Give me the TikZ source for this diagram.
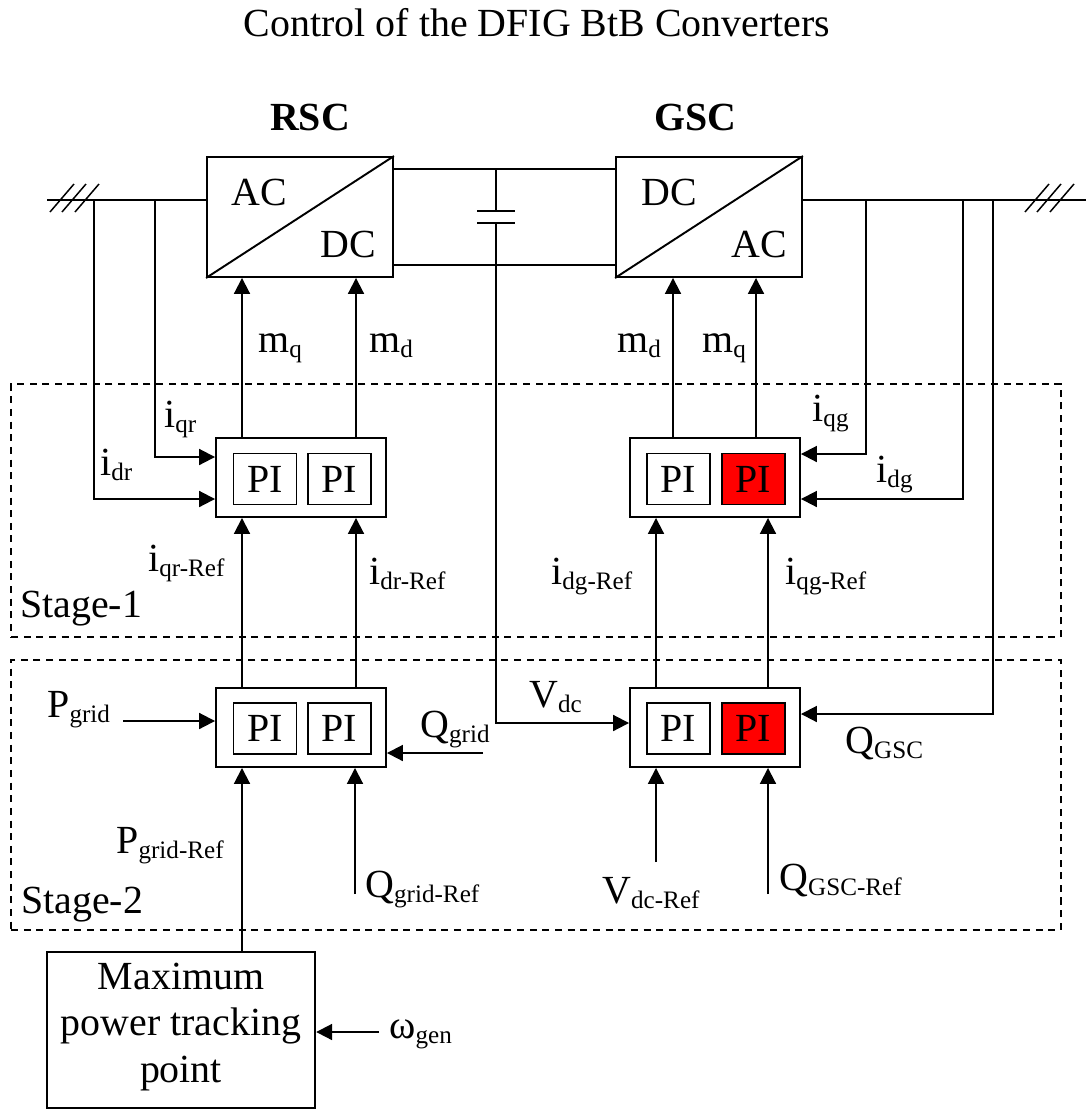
\documentclass[tikz,border=0pt]{standalone}
\usepackage{fontspec}
\setmainfont{Liberation Serif}
\usepackage{tikz}
\usetikzlibrary{arrows.meta,positioning,calc}
\definecolor{pired}{HTML}{FF0000}
\newcommand{\sgl}[2]{#1\raisebox{-3.4pt}{\fontsize{14.3}{16}\selectfont #2}}
\tikzset{conv/.style={draw,line width=1.1pt,inner sep=0pt,minimum width=3.72cm,minimum height=2.4cm},
pibox/.style={draw,line width=1.1pt,inner sep=0pt,minimum width=3.4cm,minimum height=1.58cm},
pi/.style={draw,line width=1pt,inner sep=0pt,minimum width=1.26cm,minimum height=1.02cm,font=\fontsize{22.7}{26}\selectfont},
pihot/.style={pi,fill=pired},
lab/.style={anchor=base west,inner sep=0pt,font=\fontsize{22.7}{26}\selectfont},
head/.style={anchor=base,inner sep=0pt,font=\fontsize{22.7}{26}\selectfont\bfseries},
stage/.style={draw,line width=.85pt,dash pattern=on 4pt off 3.2pt,inner sep=0pt,minimum width=21cm},
wire/.style={line width=1.1pt},
arr/.style={-{Triangle[length=9pt,width=9pt]},line width=1.1pt}}
\begin{document}
\begin{tikzpicture}[x=.02cm,y=-.02cm]
\useasboundingbox (0,0) rectangle (1086,1109);
\node[head,font=\fontsize{22.7}{26}\selectfont] (title) at (537,36) {Control of the DFIG BtB Converters};
\node[head] (rsch) at (310,130) {RSC};
\node[head] (gsch) at (695,130) {GSC};
% stages
\node[stage,minimum height=5.07cm] (s1) at (536,510.5) {};
\node[stage,minimum height=5.4cm] (s2) at (536,795) {};
\node[lab] (s1t) at (20,617) {Stage-1};
\node[lab] (s2t) at (21,913) {Stage-2};
% converters
\node[conv] (rsc) at (300,217) {};
\node[conv] (gsc) at (709,217) {};
\draw[wire] (rsc.south west)--(rsc.north east);
\draw[wire] (gsc.south west)--(gsc.north east);
\node[lab] (rsca) at (231,205) {AC};
\node[lab] (rscd) at (320,257) {DC};
\node[lab] (gscd) at (641,205) {DC};
\node[lab] (gsca) at (731,257) {AC};
% PI blocks
\node[pibox] (pa) at (301,477.5) {};
\node[pi] (pa1) at (265,479) {PI};
\node[pi] (pa2) at (339.5,479) {PI};
\node[pibox] (pb) at (715,477.5) {};
\node[pi] (pb1) at (678.5,479) {PI};
\node[pihot] (pb2) at (753.5,479) {PI};
\node[pibox] (pc) at (301,727.5) {};
\node[pi] (pc1) at (265,728.5) {PI};
\node[pi] (pc2) at (339.5,728.5) {PI};
\node[pibox] (pd) at (715,727.5) {};
\node[pi] (pd1) at (678.5,728.5) {PI};
\node[pihot] (pd2) at (753.5,728.5) {PI};
\node[conv,minimum width=5.37cm,minimum height=3.12cm,align=center,font=\fontsize{22.7}{26.6}\selectfont] (mppt) at (181,1030) {Maximum\\power tracking\\point\rule[-8.3pt]{0pt}{0pt}};
% columns and rows
\coordinate (c1) at (242,0);
\coordinate (c2) at (356,0);
\coordinate (c3) at (673,0);
\coordinate (c4) at (756,0);
\coordinate (c5) at (656,0);
\coordinate (c6) at (768,0);
\coordinate (lac) at (47,200);
\coordinate (rac) at (1086,200);
\coordinate (busa) at (0,169);
\coordinate (busb) at (0,265);
\coordinate (j1) at (94,200);
\coordinate (j2) at (155,200);
\coordinate (j3) at (866,200);
\coordinate (j4) at (963,200);
\coordinate (j5) at (993,200);
\coordinate (r1) at (0,457);
\coordinate (r2) at (0,499);
\coordinate (r3) at (0,454);
\coordinate (r4) at (0,714);
\coordinate (r5) at (0,723);
% AC lines
\draw[wire] (lac)--(lac-|rsc.west);
\draw[wire] (gsc.east|-rac)--(rac);
\foreach \x in {50,62,75} \draw[line width=.85pt] (\x,212)--(\x+24,184);
\foreach \x in {1025,1037,1050} \draw[line width=.85pt] (\x,212)--(\x+24,184);
% DC bus
\draw[wire] (rsc.east|-busa)--(gsc.west|-busa);
\draw[wire] (rsc.east|-busb)--(gsc.west|-busb);
\coordinate (capa) at (496,211);
\coordinate (capb) at (496,223);
\draw[wire] (capa|-busa)--(capa);
\draw[wire] (477,211)--(515,211);
\draw[wire] (477,223)--(515,223);
\draw[arr] (capb)--(capb|-r5)--(pd.west|-r5);
% to the converters
\draw[arr] (pa.north-|c1)--(rsc.south-|c1);
\draw[arr] (pa.north-|c2)--(rsc.south-|c2);
\draw[arr] (pb.north-|c3)--(gsc.south-|c3);
\draw[arr] (pb.north-|c4)--(gsc.south-|c4);
% between the stages
\draw[arr] (pc.north-|c1)--(pa.south-|c1);
\draw[arr] (pc.north-|c2)--(pa.south-|c2);
\draw[arr] (pd.north-|c5)--(pb.south-|c5);
\draw[arr] (pd.north-|c6)--(pb.south-|c6);
% feedback
\draw[arr] (j1)--(j1|-r2)--(pa.west|-r2);
\draw[arr] (j2)--(j2|-r1)--(pa.west|-r1);
\draw[arr] (j3)--(j3|-r3)--(pb.east|-r3);
\draw[arr] (j4)--(j4|-r2)--(pb.east|-r2);
\draw[arr] (j5)--(j5|-r4)--(pd.east|-r4);
% references
\coordinate (pgs) at (123,721);
\coordinate (qgs) at (483,753);
\coordinate (qrs) at (355,894);
\coordinate (vrs) at (656,862);
\coordinate (qcs) at (768,894);
\coordinate (ws) at (379,1032);
\draw[arr] (pgs)--(pc.west|-pgs);
\draw[arr] (qgs)--(pc.east|-qgs);
\draw[arr] (mppt.north-|c1)--(pc.south-|c1);
\draw[arr] (qrs)--(pc.south-|qrs);
\draw[arr] (vrs)--(pd.south-|vrs);
\draw[arr] (qcs)--(pd.south-|qcs);
\draw[arr] (ws)--(mppt.east|-ws);
% labels
\node[lab] (mq1) at (258,352) {\sgl{m}{q}};
\node[lab] (md1) at (369,352) {\sgl{m}{d}};
\node[lab] (md2) at (617,352) {\sgl{m}{d}};
\node[lab] (mq2) at (702,352) {\sgl{m}{q}};
\node[lab] (iqr) at (164,427) {\sgl{i}{qr}};
\node[lab] (idr) at (100,475) {\sgl{i}{dr}};
\node[lab] (iqg) at (812,421) {\sgl{i}{qg}};
\node[lab] (idg) at (876,482) {\sgl{i}{dg}};
\node[lab] (iqrr) at (148,571) {\sgl{i}{qr-Ref}};
\node[lab] (idrr) at (369,584) {\sgl{i}{dr-Ref}};
\node[lab] (idgr) at (551,584) {\sgl{i}{dg-Ref}};
\node[lab] (iqgr) at (785,584) {\sgl{i}{qg-Ref}};
\node[lab] (pg) at (47,717) {\sgl{P}{grid}};
\node[lab] (qg) at (420,737) {\sgl{Q}{grid}};
\node[lab] (vd) at (529,707) {\sgl{V}{dc}};
\node[lab] (qc) at (845,753) {\sgl{Q}{GSC}};
\node[lab] (pgr) at (116,853) {\sgl{P}{grid-Ref}};
\node[lab] (qgr) at (365,897) {\sgl{Q}{grid-Ref}};
\node[lab] (vdr) at (602,903) {\sgl{V}{dc-Ref}};
\node[lab] (qcr) at (779,890) {\sgl{Q}{GSC-Ref}};
\node[lab] (wg) at (389,1038) {\sgl{ω}{gen}};
\end{tikzpicture}
\end{document}
